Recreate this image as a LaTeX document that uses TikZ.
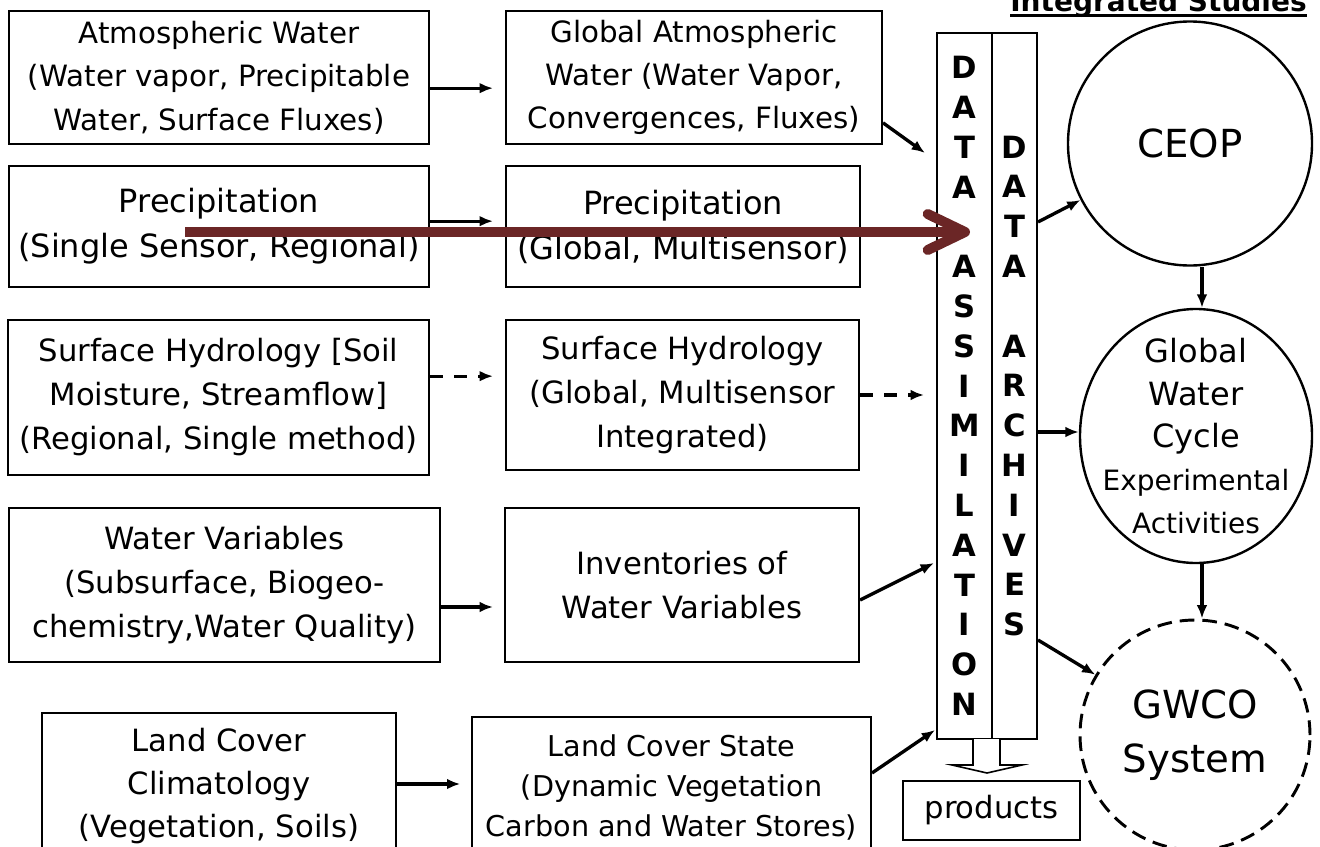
\documentclass[tikz,border=0pt]{standalone}
\usepackage{fontspec}
\setmainfont{DejaVu Sans}
\usetikzlibrary{arrows.meta,shapes.geometric}
\definecolor{arrowred}{HTML}{6B2626}
\tikzset{
  box/.style={draw, line width=1.5pt, align=center, inner sep=0pt, font=\fontsize{23}{33}\selectfont},
  colbox/.style={draw, line width=1.5pt, align=center, inner sep=0pt, minimum width=#1, minimum height=529.5pt, font=\bfseries\fontsize{23}{29.85}\selectfont},
  arr/.style={line width=2.5pt, -{Latex[length=10pt,width=8pt]}},
  dasharr/.style={arr, dash pattern=on 10pt off 8pt},
  redarr/.style={line width=7.5pt, arrowred, -{Straight Barb[length=28pt,width=27pt,round]}},
  hollow/.style={line width=1.2pt, fill=white}
}

\begin{document}
\begin{tikzpicture}[x=0.75pt,y=-0.75pt]
\useasboundingbox (0,0) rectangle (1320,846);

\node[box, minimum width=315pt, minimum height=99.75pt, font=\fontsize{22}{32.5}\selectfont] (atmwater) at (219,77.5) {Atmospheric Water\\(Water vapor, Precipitable\\Water, Surface Fluxes)};
\node[box, minimum width=282pt, minimum height=99.75pt, font=\fontsize{22}{32.5}\selectfont] (globatm) at (694,77.5) {Global Atmospheric\\Water (Water Vapor,\\Convergences, Fluxes)};
\node[box, minimum width=315pt, minimum height=90.75pt, font=\fontsize{24}{33.75}\selectfont] (precipreg) at (219,226.5) {Precipitation\\(Single Sensor, Regional)};
\node[box, minimum width=265.5pt, minimum height=90.75pt, font=\fontsize{24}{33.75}\selectfont] (precipglob) at (683,226.5) {Precipitation\\(Global, Multisensor)};
\node[box, minimum width=315.75pt, minimum height=116.25pt] (surfreg) at (218.5,397.5) {Surface Hydrology [Soil\\Moisture, Streamflow]\\(Regional, Single method)};
\node[box, minimum width=264.75pt, minimum height=112.5pt] (surfglob) at (682.5,395) {Surface Hydrology\\(Global, Multisensor\\Integrated)};
\node[box, minimum width=323.25pt, minimum height=115.5pt] (watervar) at (224.5,585) {Water Variables\\(Subsurface, Biogeo-\\chemistry,Water Quality)};
\node[box, minimum width=265.5pt, minimum height=115.5pt] (inventory) at (682,585) {Inventories of\\Water Variables};
\node[box, minimum width=265.5pt, minimum height=110pt, font=\fontsize{23}{32.5}\selectfont] (landclim) at (219,786) {Land Cover\\Climatology\\(Vegetation, Soils)};
\node[box, minimum width=299.25pt, minimum height=105pt, font=\fontsize{21.5}{30}\selectfont] (landstate) at (671.5,787) {Land Cover State\\(Dynamic Vegetation\\Carbon and Water Stores)};

\node[colbox=41.25pt] (dacol) at (964.5,386) {D\\A\\T\\A\\~\\A\\S\\S\\I\\M\\I\\L\\A\\T\\I\\O\\N};
\node[colbox=33.75pt] (arcol) at (1014.5,386) {D\\A\\T\\A\\~\\A\\R\\C\\H\\I\\V\\E\\S};
\node[draw, line width=1.2pt, minimum width=132.75pt, minimum height=44.25pt, inner sep=0pt, font=\fontsize{23}{28}\selectfont] (products) at (991.5,810.5) {products};

\node[circle, draw, line width=1.8pt, minimum size=183pt, inner sep=0pt, font=\fontsize{29}{38}\selectfont] (ceop) at (1190,143.5) {CEOP};
\node[ellipse, draw, line width=1.8pt, minimum width=174pt, minimum height=190.5pt, inner sep=0pt] (gwe) at (1196,436) {};
\node[align=center, inner sep=0pt, font=\fontsize{24}{32}\selectfont] (gwetext) at (gwe.center) {Global\\Water\\Cycle\\{\fontsize{21}{30}\selectfont Experimental}\\{\fontsize{21}{30}\selectfont Activities}};
\node[circle, draw, line width=2.2pt, dash pattern=on 11pt off 6pt, minimum size=172.5pt, inner sep=0pt, align=center, font=\fontsize{29}{41}\selectfont] (gwco) at (1195,735) {GWCO\\System};

\node[anchor=base east, inner sep=0pt, font=\bfseries\fontsize{21}{25}\selectfont] (title) at (1307,12) {Integrated Studies};
\draw[line width=2.2pt] ([yshift=-2.6pt]title.base west) -- ([yshift=-2.6pt]title.base east);

\coordinate (in1) at (925,153);
\coordinate (in4) at (934,563);
\coordinate (in5) at (935,730);
\coordinate (redstart) at (185,232);
\coordinate (redtip) at (970,232);

\draw[arr, shorten >=9pt] ([yshift=-8pt]atmwater.east) -- ([yshift=-8pt]globatm.west);
\draw[arr, shorten >=9pt] ([yshift=4pt]precipreg.east) -- ([yshift=4pt]precipglob.west);
\draw[dasharr, shorten >=9pt] ([yshift=16pt]surfreg.east) -- ([yshift=16pt]surfreg.east -| surfglob.west);
\draw[dasharr, shorten >=9pt] (surfglob.east) -- (surfglob.east -| dacol.west);
\draw[arr, shorten >=8.25pt] ([yshift=-16.5pt]watervar.east) -- ([yshift=-16.5pt]watervar.east -| inventory.west);
\draw[arr, shorten >=8pt] ([yshift=1.5pt]landclim.east) -- ([yshift=1.5pt]landclim.east -| landstate.west);
\draw[arr] ([yshift=-34pt]globatm.east) -- (in1);
\draw[arr] ([yshift=-11.25pt]inventory.east) -- (in4);
\draw[arr] ([yshift=10.5pt]landstate.east) -- (in5);
\draw[arr] ([yshift=123pt]arcol.east) -- (ceop);
\draw[arr] ([yshift=-34.5pt]arcol.east) -- ([yshift=-34.5pt]arcol.east -| gwe.west);
\draw[arr] ([yshift=-190.5pt]arcol.east) -- (gwco);
\draw[arr] ([xshift=9pt]ceop.south) -- ([xshift=9pt]ceop.south |- gwe.north);
\draw[arr] ([xshift=4.5pt]gwe.south) -- ([xshift=4.5pt]gwe.south |- gwco.north);

\draw[hollow] (973,739) -- (973,765) -- (952,765) -- (987,773) -- (1022,765) -- (1000,765) -- (1000,739);
\draw[redarr] (redstart) -- (redtip);
\end{tikzpicture}
\end{document}
